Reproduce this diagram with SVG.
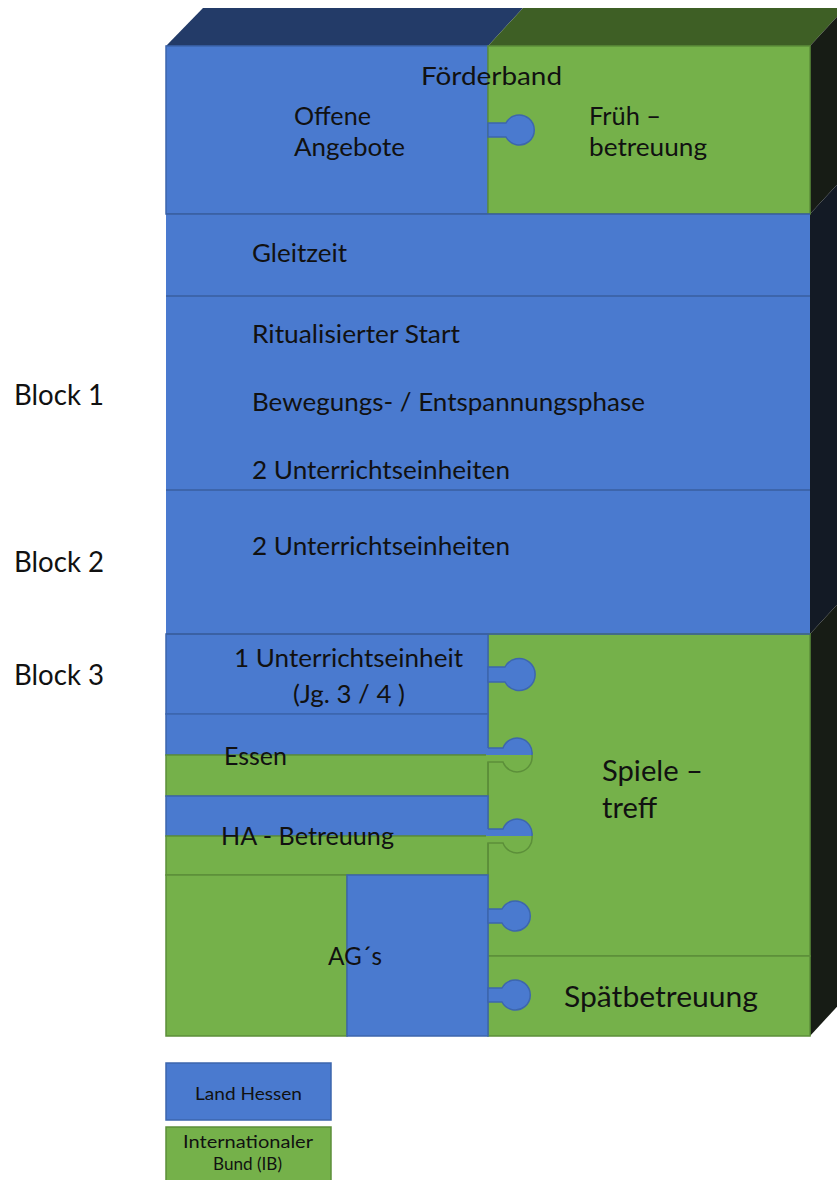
<svg xmlns="http://www.w3.org/2000/svg" width="837" height="1180" viewBox="0 0 837 1180">
<style>
.b{fill:#4a7acf;stroke:#3d66ad;stroke-width:1.5}
.g{fill:#75b14a;stroke:#5c8f3a;stroke-width:1.5}
.bn{fill:#4a7acf}
.gn{fill:#75b14a}
.sep{stroke:#3a5f9f;stroke-width:1.5;fill:none}
.t{font-family:Lato,"Open Sans","Liberation Sans",sans-serif;fill:#111;font-size:25.5px}
.L{font-size:29.5px}
.s{font-size:17px}
</style>
<rect width="837" height="1180" fill="#ffffff"/>
<g id="box3d">
  <polygon points="166,46 203,8 523,8 488,46" fill="#233b68"/>
  <polygon points="488,46 523,8 845,8 810,46" fill="#3e5f25"/>
  <polygon points="810,46 845,8 845,176 810,214" fill="#171c15"/>
  <polygon points="810,214 845,176 845,596 810,634" fill="#131a25"/>
  <polygon points="810,634 845,596 845,998 810,1036" fill="#171c15"/>
</g>
<g id="foerderband">
  <rect class="b" x="166" y="46" width="322" height="168"/>
  <rect class="g" x="488" y="46" width="322" height="168"/>
  <path class="b" d="M488,123 L506,123 A15,15 0 1 1 506,137 L488,137 Z"/>
  <text class="t" x="421" y="85" textLength="141" lengthAdjust="spacingAndGlyphs">Förderband</text>
</g>
<g id="offene-angebote">
  <text class="t" x="294" y="125" textLength="77" lengthAdjust="spacingAndGlyphs">Offene</text>
  <text class="t" x="294" y="156" textLength="111" lengthAdjust="spacingAndGlyphs">Angebote</text>
</g>
<g id="fruehbetreuung">
  <text class="t" x="589" y="125" textLength="72" lengthAdjust="spacingAndGlyphs">Früh –</text>
  <text class="t" x="589" y="156" textLength="118" lengthAdjust="spacingAndGlyphs">betreuung</text>
</g>
<g id="gleitzeit">
  <rect class="bn" x="166" y="214" width="644" height="82"/>
  <text class="t" x="252" y="262" textLength="95" lengthAdjust="spacingAndGlyphs">Gleitzeit</text>
</g>
<g id="block1">
  <rect class="bn" x="166" y="296" width="644" height="194"/>
  <text class="t" x="252" y="343" textLength="208" lengthAdjust="spacingAndGlyphs">Ritualisierter Start</text>
  <text class="t" x="252" y="411" textLength="393" lengthAdjust="spacingAndGlyphs">Bewegungs- / Entspannungsphase</text>
  <text class="t" x="252" y="479" textLength="258" lengthAdjust="spacingAndGlyphs">2 Unterrichtseinheiten</text>
</g>
<g id="block2">
  <rect class="bn" x="166" y="490" width="644" height="144"/>
  <text class="t" x="252" y="555" textLength="258" lengthAdjust="spacingAndGlyphs">2 Unterrichtseinheiten</text>
</g>
<g id="spieletreff">
  <rect class="g" x="488" y="634" width="322" height="322"/>
  <text class="t L" x="602" y="781" textLength="101" lengthAdjust="spacingAndGlyphs">Spiele –</text>
  <text class="t L" x="602" y="818" textLength="55" lengthAdjust="spacingAndGlyphs">treff</text>
</g>
<g id="spaetbetreuung">
  <rect class="g" x="488" y="956" width="322" height="80"/>
  <text class="t L" x="564" y="1007" textLength="194" lengthAdjust="spacingAndGlyphs">Spätbetreuung</text>
</g>
<g id="unterrichtseinheit">
  <rect class="b" x="166" y="634" width="322" height="80"/>
  <path class="b" d="M488,667 L505,667 A16,16 0 1 1 505,682 L488,682 Z"/>
  <text class="t" x="234" y="667" textLength="229" lengthAdjust="spacingAndGlyphs">1 Unterrichtseinheit</text>
  <text class="t" x="293" y="703" textLength="112" lengthAdjust="spacingAndGlyphs">(Jg. 3 / 4 )</text>
</g>
<g id="essen">
  <rect class="b" x="166" y="714" width="322" height="41"/>
  <rect class="g" x="166" y="755" width="322" height="41"/>
  <path class="bn" d="M486,748 L503,748 A15,15 0 0 1 532,755 L486,755 Z"/>
  <path fill="none" stroke="#3d66ad" stroke-width="1.5" d="M488,748 L503,748 A15,15 0 0 1 532,755"/>
  <path class="gn" d="M486,755 L532,755 A15,15 0 0 1 503,762 L486,762 Z"/>
  <path fill="none" stroke="#5c8f3a" stroke-width="1.5" d="M532,755 A15,15 0 0 1 503,762 L488,762 L488,796"/>
  <text class="t" x="224" y="765" textLength="63" lengthAdjust="spacingAndGlyphs">Essen</text>
</g>
<g id="ha-betreuung">
  <rect class="b" x="166" y="796" width="322" height="40"/>
  <rect class="g" x="166" y="836" width="322" height="39"/>
  <path class="bn" d="M486,829 L503,829 A15,15 0 0 1 532,836 L486,836 Z"/>
  <path fill="none" stroke="#3d66ad" stroke-width="1.5" d="M488,829 L503,829 A15,15 0 0 1 532,836"/>
  <path class="gn" d="M486,836 L532,836 A15,15 0 0 1 503,843 L486,843 Z"/>
  <path fill="none" stroke="#5c8f3a" stroke-width="1.5" d="M532,836 A15,15 0 0 1 503,843 L488,843 L488,875"/>
  <text class="t" x="221" y="845" textLength="173" lengthAdjust="spacingAndGlyphs">HA - Betreuung</text>
</g>
<g id="ags">
  <rect class="g" x="166" y="875" width="181" height="161"/>
  <rect class="b" x="347" y="875" width="141" height="161"/>
  <path class="b" d="M488,909 L502,909 A15,15 0 1 1 502,923 L488,923 Z"/>
  <path class="b" d="M488,988 L502,988 A15,15 0 1 1 502,1002 L488,1002 Z"/>
  <text class="t" x="328" y="965" textLength="54" lengthAdjust="spacingAndGlyphs">AG´s</text>
</g>
<g id="separators">
  <line class="sep" x1="166" y1="214" x2="810" y2="214"/>
  <line class="sep" x1="166" y1="296" x2="810" y2="296"/>
  <line class="sep" x1="166" y1="490" x2="810" y2="490"/>
  <line class="sep" x1="166" y1="634" x2="810" y2="634"/>
</g>
<g id="block-labels">
  <text class="t L" x="14" y="405" textLength="90" lengthAdjust="spacingAndGlyphs">Block 1</text>
  <text class="t L" x="14" y="572" textLength="90" lengthAdjust="spacingAndGlyphs">Block 2</text>
  <text class="t L" x="14" y="685" textLength="90" lengthAdjust="spacingAndGlyphs">Block 3</text>
</g>
<g id="legend-land-hessen">
  <rect class="b" x="166" y="1063" width="165" height="57"/>
  <text class="t s" x="195" y="1100" textLength="107" lengthAdjust="spacingAndGlyphs">Land Hessen</text>
</g>
<g id="legend-ib">
  <rect class="g" x="166" y="1127" width="165" height="60"/>
  <text class="t s" x="183" y="1148" textLength="130" lengthAdjust="spacingAndGlyphs">Internationaler</text>
  <text class="t s" x="213" y="1170" textLength="69" lengthAdjust="spacingAndGlyphs">Bund (IB)</text>
</g>
<g id="connectors"/>
</svg>
